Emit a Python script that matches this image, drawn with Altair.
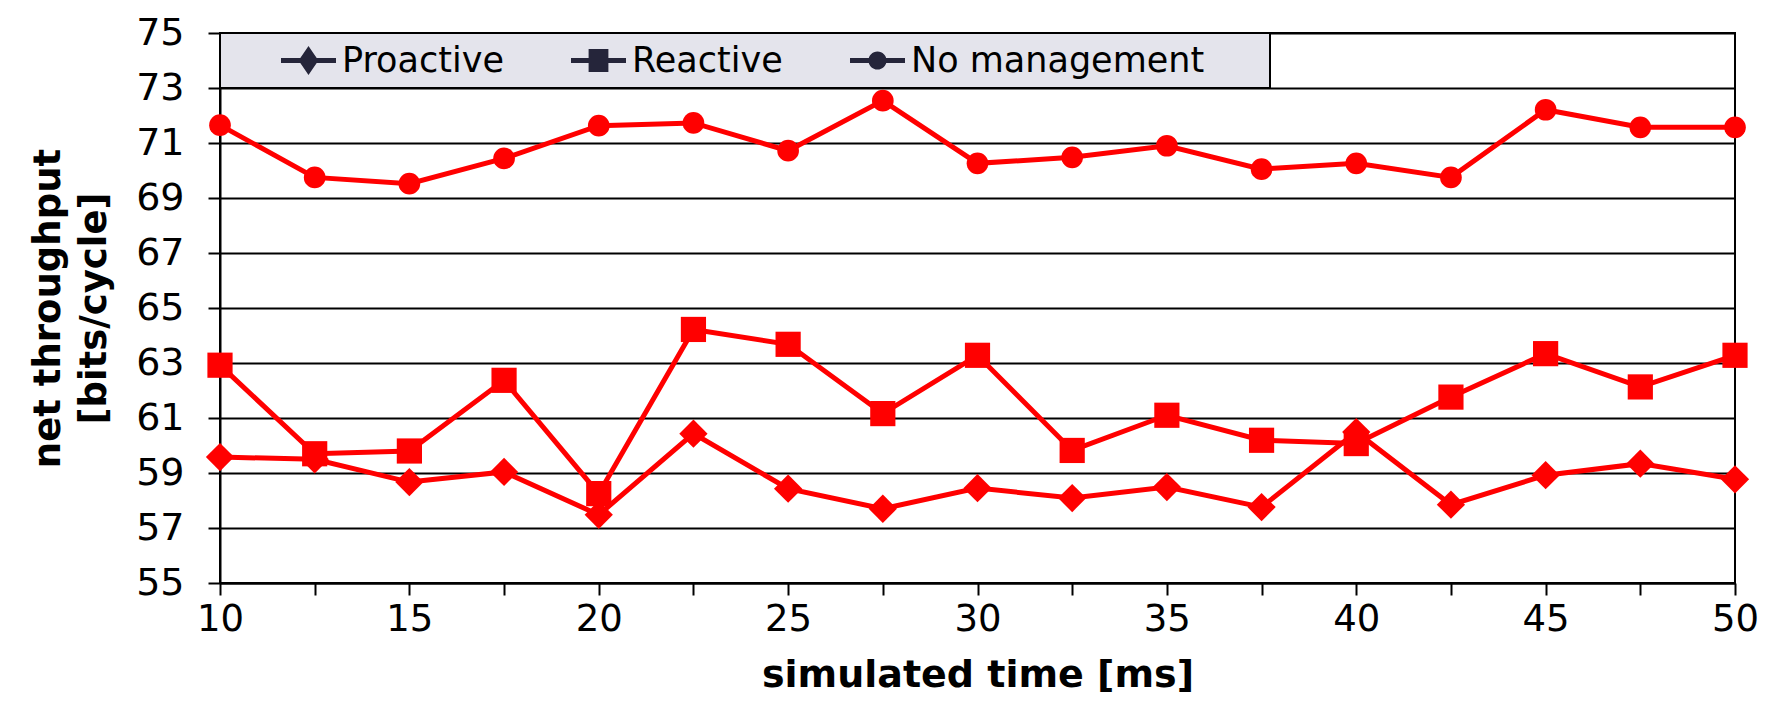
import altair as alt
import pandas as pd

# ---- data ----
time_ms = [10, 12.5, 15, 17.5, 20, 22.5, 25, 27.5, 30, 32.5, 35, 37.5, 40, 42.5, 45, 47.5, 50]
proactive = [59.58, 59.50, 58.67, 59.04, 57.48, 60.43, 58.43, 57.70, 58.45, 58.09, 58.49,
             57.76, 60.49, 57.85, 58.92, 59.34, 58.77]
reactive = [62.92, 59.70, 59.80, 62.37, 58.25, 64.22, 63.68, 61.16, 63.28, 59.82, 61.10,
            60.19, 60.07, 61.76, 63.34, 62.13, 63.28]
no_management = [71.65, 69.75, 69.52, 70.44, 71.63, 71.73, 70.72, 72.54, 70.26, 70.48, 70.90,
                 70.05, 70.26, 69.75, 72.21, 71.57, 71.57]

series_names = ["Proactive", "Reactive", "No management"]
x_ticks = [10, 12.5, 15, 17.5, 20, 22.5, 25, 27.5, 30, 32.5, 35, 37.5, 40, 42.5, 45, 47.5, 50]
y_ticks = [55, 57, 59, 61, 63, 65, 67, 69, 71, 73, 75]

rows = []
for name, vals in zip(series_names, [proactive, reactive, no_management]):
    for t, v in zip(time_ms, vals):
        rows.append({"time": t, "value": v, "series": name})
df = pd.DataFrame(rows)

RED = "#FF0000"
NAVY = "#25253A"
FONT = "DejaVu Sans"

# marker shapes for the plotted points
data_shapes = ["diamond", "square", "circle"]
data_sizes = [800, 470, 500]

# legend symbols: marker with a short line through it (unit box = +-1)
legend_shapes = [
    "M-1,-0.09H1V0.09H-1Z M0,-0.53L0.36,0L0,0.53L-0.36,0Z",
    "M-1,-0.09H1V0.09H-1Z M-0.36,-0.42H0.36V0.42H-0.36Z",
    "M-1,-0.09H1V0.09H-1Z M0,-0.33A0.33,0.33 0 1,1 0,0.33A0.33,0.33 0 1,1 0,-0.33Z",
]

x_enc = alt.X("time:Q",
              scale=alt.Scale(domain=[10, 50], nice=False, zero=False),
              axis=alt.Axis(values=x_ticks,
                            labelExpr="datum.value % 5 == 0 ? datum.label : ''",
                            labelFlush=False,
                            title="simulated time [ms]", grid=False))
y_enc = alt.Y("value:Q",
              scale=alt.Scale(domain=[55, 75], nice=False, zero=False),
              axis=alt.Axis(values=y_ticks, title=["net throughput", "[bits/cycle]"],
                            grid=True))

base = alt.Chart(df)

lines = base.mark_line(color=RED, strokeWidth=5).encode(
    x=x_enc, y=y_enc, detail="series:N")

points = base.mark_point(filled=True, color=RED, opacity=1).encode(
    x="time:Q", y="value:Q",
    shape=alt.Shape("series:N", scale=alt.Scale(domain=series_names, range=data_shapes),
                    legend=None),
    size=alt.Size("series:N", scale=alt.Scale(domain=series_names, range=data_sizes),
                  legend=None),
)

# trailing blank padding keeps the legend box as wide as in the original
legend_label_expr = (
    "datum.label == 'No management' ? "
    "datum.label + '\u00a0\u00a0\u00a0\u2800' : datum.label"
)

legend_layer = base.transform_filter("false").mark_point(
    filled=True, color=NAVY, opacity=1).encode(
    x="time:Q", y="value:Q",
    shape=alt.Shape("series:N",
                    scale=alt.Scale(domain=series_names, range=legend_shapes),
                    legend=alt.Legend(
                        title=None, orient="none", legendX=0, legendY=0,
                        direction="horizontal", columns=3,
                        fillColor="#E4E4EC", strokeColor="#000000",
                        padding=6, symbolSize=3025, clipHeight=43,
                        symbolOffset=54, labelOffset=5, columnPadding=12,
                        labelFont=FONT, labelFontSize=35, labelColor="#000000",
                        labelLimit=0,
                        labelExpr=legend_label_expr,
                    )),
)

chart = alt.layer(lines, points, legend_layer).resolve_scale(
    shape="independent"
).properties(
    width=1515, height=550,
    autosize=alt.AutoSizeParams(type="none"),
    padding={"left": 212, "top": 25, "right": 25, "bottom": 111},
).configure_view(
    stroke="#000000", strokeWidth=2
).configure_axis(
    domainColor="#000000", domainWidth=2,
    tickColor="#000000", tickWidth=2, tickSize=12,
    gridColor="#000000", gridWidth=2, gridOpacity=1,
    labelFont=FONT, labelColor="#000000",
    titleFont=FONT, titleColor="#000000", titleFontWeight="bold",
).configure_axisX(
    labelFontSize=37, labelPadding=6, titleFontSize=38, titlePadding=19,
).configure_axisY(
    labelFontSize=38, labelPadding=24, titleFontSize=37, titlePadding=22,
    titleLineHeight=46,
).configure_legend(
    strokeWidth=2
)

chart.save("out.html", embed_options={"renderer": "svg", "actions": False})
